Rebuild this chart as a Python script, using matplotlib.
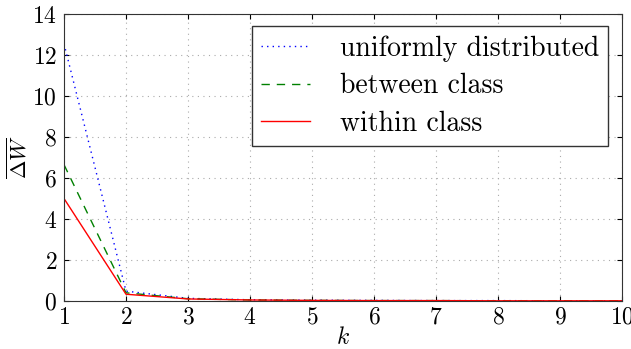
import matplotlib
matplotlib.use("Agg")
import matplotlib.pyplot as plt

k = [1, 2, 3, 4, 5, 6, 7, 8, 9, 10]
uniform = [12.55, 0.48, 0.13, 0.06, 0.04, 0.03, 0.02, 0.02, 0.01, 0.01]
between = [6.65, 0.40, 0.11, 0.05, 0.03, 0.02, 0.02, 0.01, 0.01, 0.01]
within = [5.0, 0.33, 0.10, 0.05, 0.03, 0.02, 0.02, 0.01, 0.01, 0.01]

plt.rcParams['font.family'] = ['cmr10', 'DejaVu Serif']
plt.rcParams['mathtext.fontset'] = 'cm'
plt.rcParams['axes.formatter.use_mathtext'] = True

fig = plt.figure(figsize=(6.31, 3.49), dpi=100)
ax = fig.add_axes([64/631, 1-301/349, (622-64)/631, (301-14)/349])

ax.plot(k, uniform, color='b', linestyle=(0, (1, 3)), linewidth=1.0, label='uniformly distributed')
ax.plot(k, between, color='g', linestyle=(0, (6, 5)), linewidth=1.0, label='between class')
ax.plot(k, within, color='r', linestyle='-', linewidth=1.0, label='within class')

ax.set_xlim(1, 10)
ax.set_ylim(0, 14)
ax.set_xticks(range(1, 11))
ax.set_yticks(range(0, 15, 2))
ax.grid(True, color='#aaaaaa', linestyle=(0, (1, 4)), linewidth=0.8)
ax.tick_params(direction='in', labelsize=17, top=True, right=True, pad=5)
ax.tick_params(axis='x', pad=4)
for s in ax.spines.values():
    s.set_color('#333333')
ax.set_xlabel(r'$k$', fontsize=17, labelpad=-1.5)
ax.set_ylabel(r'$\overline{\Delta W}$', fontsize=16, labelpad=1)

leg = ax.legend(loc='upper right', fontsize=20, fancybox=False, framealpha=1,
                edgecolor='#333333', handlelength=1.78, handletextpad=1.05,
                borderpad=0.33, labelspacing=0.41, borderaxespad=0,
                bbox_to_anchor=((608-64)/558, (301-26)/287))
leg.get_frame().set_linewidth(1.0)

fig.savefig('out.png', dpi=100)
